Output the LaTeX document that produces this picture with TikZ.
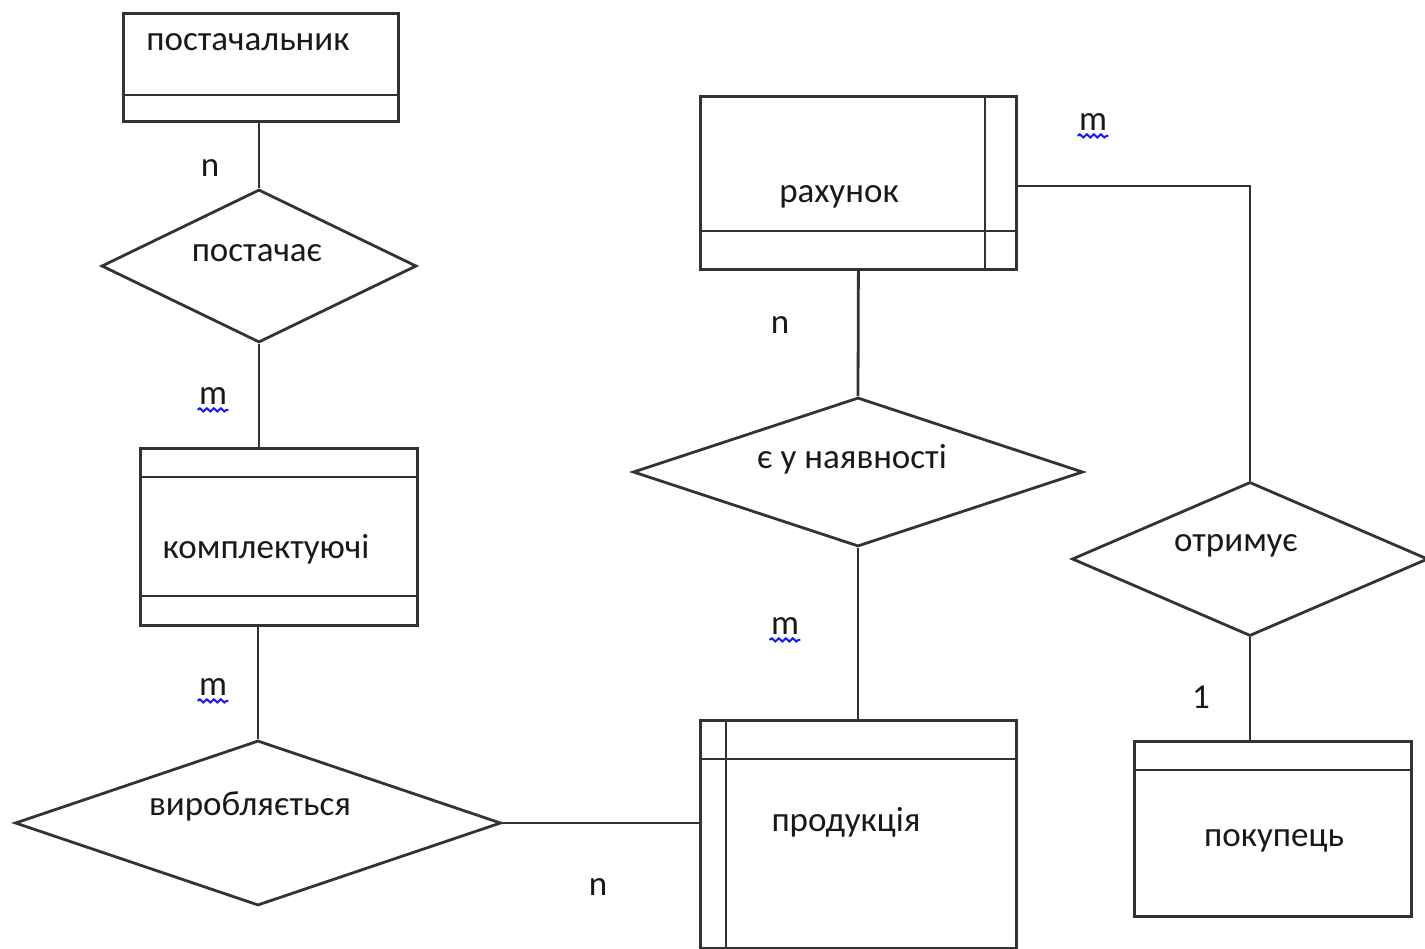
\documentclass[tikz,border=0pt]{standalone}
\usepackage{fontspec}
\setmainfont{Carlito}
\usetikzlibrary{calc}
\usetikzlibrary{shapes.geometric}
\usetikzlibrary{decorations.pathmorphing}
\newcommand{\erlinew}{2.8pt}
\newcommand{\ertextsize}{\fontsize{35}{40}\selectfont}

\tikzset{
  entity/.style={draw, rectangle, inner sep=0pt, anchor=north west},
  relation/.style={draw, diamond, inner sep=0pt},
  lbl/.style={font=\ertextsize, text=black!90, inner sep=0pt},
  card/.style={font=\ertextsize, text=black!90, inner sep=0pt},
  squiggle/.style={draw=blue!90!white, line width=2pt, decorate,
    decoration={snake, amplitude=1.6pt, segment length=7pt}},
}

\begin{document}
\begin{tikzpicture}[x=1pt, y=-1pt, line width=\erlinew, draw=black!80]
    \useasboundingbox (0,0) rectangle (1425,949);

    % entities
    \node[entity, minimum width=275pt, minimum height=108pt] (supp) at (122,12) {};
    \node[entity, minimum width=277pt, minimum height=177pt] (comp) at (139,447) {};
    \node[entity, minimum width=316pt, minimum height=173pt] (bill) at (699,95) {};
    \node[entity, minimum width=316pt, minimum height=228pt] (prod) at (699,719) {};
    \node[entity, minimum width=277pt, minimum height=175pt] (buyer) at (1133,740) {};

    % dividers
    \draw (supp.west |- 0,95) -- (supp.east |- 0,95);
    \draw (comp.west |- 0,477) -- (comp.east |- 0,477);
    \draw (comp.west |- 0,596) -- (comp.east |- 0,596);
    \draw (bill.west |- 0,231) -- (bill.east |- 0,231);
    \draw (bill.north -| 985,0) -- (bill.south -| 985,0);
    \draw (prod.west |- 0,759) -- (prod.east |- 0,759);
    \draw (prod.north -| 726,0) -- (prod.south -| 726,0);
    \draw (buyer.west |- 0,770) -- (buyer.east |- 0,770);

    % relations
    \node[relation, minimum width=315pt, minimum height=153pt] (supplies) at (259,266) {};
    \node[relation, minimum width=486pt, minimum height=165pt] (makes) at (258,823) {};
    \node[relation, minimum width=450pt, minimum height=149pt] (stock) at (858,472) {};
    \node[relation, minimum width=356pt, minimum height=154pt] (gets) at (1250,559) {};

    % texts
    \node[lbl] (supptext) at (248,42) {постачальник};
    \node[lbl] (comptext) at (266,549) {комплектуючі};
    \node[lbl] (billtext) at (839,197) {рахунок};
    \node[lbl] (prodtext) at (846,822) {продукція};
    \node[lbl] (buyertext) at (1274,841) {покупець};
    \node[lbl] (suppliestext) at (257,253) {постачає};
    \node[lbl] (makestext) at (250,806) {виробляється};
    \node[lbl] (stocktext) at (852,459) {є у наявності};
    \node[lbl] (getstext) at (1236,546) {отримує};

    % connectors
    \draw (supp.south -| supplies.north) -- (supplies.north);
    \draw (supplies.south) -- (supplies.south |- comp.north);
    \draw (makes.north |- comp.south) -- (makes.north);
    \draw (makes.east) -- (prod.west |- makes.east);
    \draw (bill.south) -- (stock.north);
    \draw (stock.south) -- (stock.south |- prod.north);
    \draw (bill.east |- 0,186) -| (gets.north);
    \draw (gets.south) -- (gets.south |- buyer.north);

    % cardinalities
    \node[card] (c1) at (210,168) {n};
    \node[card] (c2) at (213,396) {m};
    \node[card] (c3) at (213,687) {m};
    \node[card] (c4) at (598,887) {n};
    \node[card] (c5) at (780,325) {n};
    \node[card] (c6) at (785,626) {m};
    \node[card] (c7) at (1093,122) {m};
    \node[card] (c8) at (1201,697) {1};
    \foreach \c in {c2,c3,c6,c7}
      \draw[squiggle] ($(\c.south west)+(0,4)$) -- ($(\c.south east)+(0,4)$);
\end{tikzpicture}
\end{document}
